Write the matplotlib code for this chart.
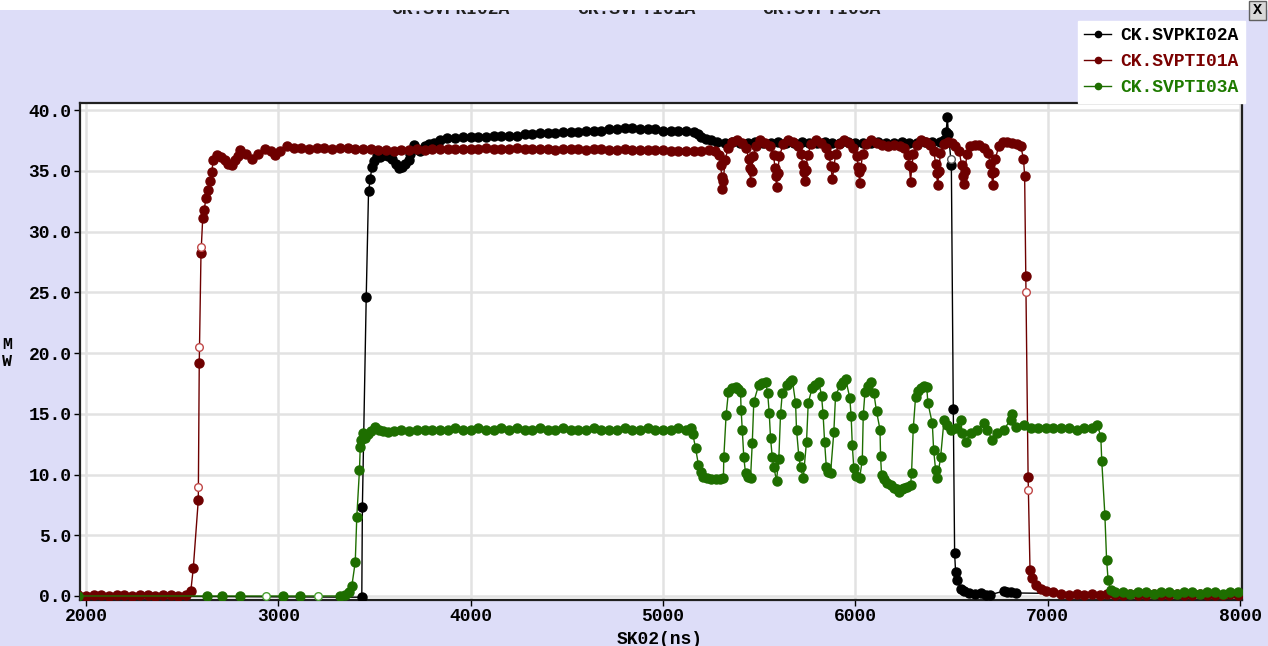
import matplotlib.pyplot as plt
from matplotlib.lines import Line2D
from matplotlib.patches import Rectangle
from matplotlib.ticker import FormatStrFormatter
from matplotlib.transforms import Bbox, TransformedBbox

# series names
names = ['CK.SVPKI02A', 'CK.SVPTI01A', 'CK.SVPTI03A']

# CK.SVPKI02A (black)
blk_t = [1960, 3434, 3437, 3457, 3469, 3478, 3486, 3498, 3512, 3530, 3550, 3570, 3590, 3610,
         3625, 3643, 3660, 3677, 3686, 3703, 3720, 3738, 3760, 3785, 3807, 3840, 3877, 3920,
         3960, 4000, 4040, 4080, 4120, 4160, 4200, 4240, 4280, 4320, 4360, 4400, 4440, 4480,
         4520, 4560, 4600, 4640, 4680, 4720, 4760, 4800, 4840, 4880, 4920, 4960, 5000, 5040,
         5080, 5120, 5160, 5180, 5200, 5225, 5250, 5280, 5320, 5360, 5400, 5440, 5480, 5520,
         5560, 5600, 5640, 5680, 5720, 5760, 5800, 5840, 5880, 5920, 5960, 6000, 6040, 6080,
         6120, 6160, 6200, 6240, 6280, 6320, 6360, 6400, 6440, 6460, 6472, 6478, 6484, 6499,
         6509, 6516, 6521, 6530, 6547, 6565, 6590, 6620, 6651, 6677, 6700, 6771, 6790, 6807,
         6833, 8050]
blk_mw = [0.0, -0.1, 7.3, 24.6, 33.3, 34.3, 35.3, 35.8, 36.2, 36.1, 36.3, 36.2, 36.0, 35.6,
          35.2, 35.3, 35.6, 35.9, 36.4, 37.1, 36.8, 36.6, 37.0, 37.2, 37.3, 37.5, 37.7, 37.7,
          37.8, 37.8, 37.8, 37.8, 37.9, 37.9, 37.9, 37.9, 38.0, 38.0, 38.1, 38.1, 38.1, 38.2,
          38.2, 38.2, 38.3, 38.3, 38.3, 38.4, 38.4, 38.5, 38.5, 38.4, 38.4, 38.4, 38.3, 38.3,
          38.3, 38.3, 38.2, 38.0, 37.8, 37.6, 37.5, 37.4, 37.3, 37.4, 37.3, 37.3, 37.4, 37.3,
          37.3, 37.4, 37.3, 37.3, 37.4, 37.3, 37.3, 37.4, 37.3, 37.3, 37.4, 37.3, 37.3, 37.3,
          37.4, 37.3, 37.3, 37.4, 37.3, 37.3, 37.4, 37.4, 37.4, 37.5, 38.2, 39.4, 38.0, 35.5,
          15.4, 3.5, 2.0, 1.3, 0.6, 0.4, 0.25, 0.2, 0.25, 0.1, 0.1, 0.4, 0.3, 0.35,
          0.25, 0.0]
blk_open_t = [6499]
blk_open_mw = [36.0]

# CK.SVPTI01A (dark red)
red_t = [1960, 2000, 2040, 2080, 2120, 2160, 2200, 2240, 2280, 2320, 2360, 2400, 2440, 2480,
         2520, 2545, 2558, 2584, 2589, 2598, 2607, 2615, 2624, 2636, 2645, 2654, 2662, 2680,
         2700, 2723, 2740, 2758, 2775, 2791, 2801, 2830, 2862, 2895, 2931, 2960, 2983, 3010,
         3044, 3080, 3120, 3160, 3200, 3240, 3280, 3320, 3360, 3400, 3440, 3480, 3520, 3560,
         3600, 3640, 3680, 3720, 3760, 3800, 3840, 3880, 3920, 3960, 4000, 4040, 4080, 4120,
         4160, 4200, 4240, 4280, 4320, 4360, 4400, 4440, 4480, 4520, 4560, 4600, 4640, 4680,
         4720, 4760, 4800, 4840, 4880, 4920, 4960, 5000, 5040, 5080, 5120, 5160, 5200,
         5240, 5270, 5290, 5300, 5305, 5309, 5314, 5322, 5340, 5360, 5385, 5410, 5432, 5445,
         5450, 5455, 5460, 5468, 5485, 5505, 5530, 5555, 5575, 5582, 5586, 5590, 5596, 5605,
         5625, 5650, 5675, 5700, 5718, 5726, 5732, 5736, 5742, 5752, 5770, 5795, 5820, 5845,
         5864, 5872, 5881, 5888, 5898, 5915, 5940, 5965, 5990, 6008, 6015, 6018, 6022, 6028,
         6038, 6055, 6080, 6110, 6140, 6170, 6200, 6230, 6255, 6272, 6280, 6287, 6293, 6302,
         6318, 6340, 6365, 6390, 6408, 6417, 6422, 6428, 6434, 6442, 6460, 6480, 6500, 6520,
         6540, 6552, 6558, 6563, 6570, 6580, 6598, 6620, 6645, 6668, 6690, 6700, 6708, 6714,
         6720, 6728, 6745, 6765, 6790, 6815, 6840, 6860, 6874, 6880, 6886, 6898, 6908, 6918,
         6938, 6964, 6990, 7030, 7070, 7110, 7150, 7190, 7230, 7270, 7310, 7350, 7390, 7430,
         7470, 7510, 7550, 7590, 7630, 7670, 7710, 7750, 7790, 7830, 7870, 7910, 7950, 7990,
         8040]
red_mw = [0.1, 0.0, 0.1, 0.1, 0.0, 0.1, 0.1, 0.0, 0.1, 0.1, 0.0, 0.1, 0.1, 0.0,
          0.1, 0.4, 2.3, 7.9, 19.2, 28.2, 31.1, 31.8, 32.8, 33.4, 34.2, 34.9, 35.9, 36.3,
          36.1, 35.9, 35.6, 35.5, 35.9, 36.2, 36.7, 36.4, 36.0, 36.4, 36.8, 36.6, 36.3, 36.6,
          37.0, 36.9, 36.9, 36.8, 36.9, 36.9, 36.8, 36.9, 36.9, 36.8, 36.8, 36.8, 36.7, 36.7,
          36.6, 36.7, 36.7, 36.8, 36.7, 36.8, 36.8, 36.8, 36.8, 36.8, 36.8, 36.8, 36.9, 36.8,
          36.8, 36.8, 36.9, 36.8, 36.8, 36.8, 36.8, 36.7, 36.8, 36.8, 36.8, 36.7, 36.8, 36.8,
          36.7, 36.7, 36.8, 36.7, 36.7, 36.7, 36.7, 36.7, 36.6, 36.6, 36.6, 36.6, 36.6,
          36.7, 36.6, 36.3, 35.5, 34.5, 33.5, 34.2, 35.9, 36.9, 37.4, 37.5, 37.3, 36.9, 36.0,
          35.2, 34.1, 35.0, 36.2, 37.0, 37.5, 37.3, 37.0, 36.3, 35.2, 34.6, 33.7, 34.8, 36.2,
          37.2, 37.5, 37.4, 37.0, 36.4, 35.5, 34.9, 34.2, 35.1, 36.3, 37.2, 37.5, 37.3, 36.9,
          36.3, 35.4, 34.3, 35.3, 36.4, 37.2, 37.5, 37.3, 36.9, 36.2, 35.3, 34.9, 34.0, 35.2,
          36.4, 37.2, 37.5, 37.3, 37.1, 37.0, 37.1, 37.0, 36.9, 36.3, 35.5, 34.1, 35.3, 36.4,
          37.1, 37.5, 37.4, 37.1, 36.6, 35.6, 34.8, 33.8, 35.0, 36.5, 37.2, 37.4, 37.3, 37.0,
          36.6, 35.5, 34.6, 33.9, 35.0, 36.4, 37.0, 37.1, 37.1, 36.9, 36.5, 35.6, 34.8, 33.8,
          34.9, 36.0, 37.0, 37.4, 37.4, 37.3, 37.2, 37.0, 36.0, 34.6, 26.3, 9.8, 2.1, 1.5,
          0.9, 0.6, 0.4, 0.3, 0.2, 0.1, 0.2, 0.1, 0.2, 0.1, 0.2, 0.1, 0.1, 0.2,
          0.1, 0.1, 0.2, 0.1, 0.1, 0.2, 0.1, 0.1, 0.2, 0.1, 0.1, 0.1, 0.2, 0.1,
          0.1]
red_open_t = [2584, 2589, 2598, 6887, 6898]
red_open_mw = [9.0, 20.5, 28.7, 25.0, 8.7]

# CK.SVPTI03A (green)
grn_t = [1960, 2630, 2708, 2801, 3025, 3113, 3322, 3347, 3365, 3382, 3400, 3408, 3422, 3426,
         3432, 3439, 3450, 3465, 3480, 3504, 3525, 3545, 3570, 3600, 3640, 3680, 3720, 3760,
         3800, 3840, 3880, 3920, 3960, 4000, 4040, 4080, 4120, 4160, 4200, 4240, 4280, 4320,
         4360, 4400, 4440, 4480, 4520, 4560, 4600, 4640, 4680, 4720, 4760, 4800, 4840, 4880,
         4920, 4960, 5000, 5040, 5080, 5120, 5143, 5155, 5169, 5184, 5195, 5210, 5231, 5250,
         5273, 5295, 5314,
         5316, 5328, 5340, 5360, 5377, 5392, 5403, 5406, 5412, 5420, 5429, 5442, 5455,
         5464, 5472, 5498, 5515, 5533, 5544, 5552, 5559, 5568, 5576, 5590,
         5602, 5611, 5620, 5646, 5660, 5672, 5689, 5694, 5706, 5715, 5729,
         5746, 5755, 5775, 5790, 5810, 5824, 5832, 5840, 5849, 5860, 5871,
         5888, 5897, 5923, 5935, 5949, 5971, 5978, 5984, 5992, 6005, 6022,
         6036, 6041, 6050, 6065, 6079, 6096, 6110, 6128, 6131, 6136, 6150,
         6166, 6183, 6200, 6215, 6227, 6240, 6253, 6270, 6287,
         6292, 6301, 6313, 6325, 6339, 6355, 6371, 6377, 6400, 6407, 6417, 6426, 6443, 6461,
         6478, 6495, 6521, 6547, 6556, 6573, 6599, 6634, 6669, 6686, 6712, 6738, 6772, 6807,
         6816, 6833, 6877, 6912, 6950, 6990, 7030, 7070, 7110, 7150, 7190, 7230, 7258, 7276,
         7281, 7297, 7306, 7314, 7328, 7350, 7390, 7430, 7470, 7510, 7550, 7590, 7630, 7670,
         7710, 7750, 7790, 7830, 7870, 7910, 7950, 7990, 8040]
grn_mw = [0.0, 0.0, 0.0, 0.0, 0.0, 0.0, 0.0, 0.1, 0.3, 0.8, 2.8, 6.5, 10.4, 12.3,
          12.8, 13.4, 13.0, 13.3, 13.6, 13.9, 13.7, 13.6, 13.5, 13.6, 13.7, 13.6, 13.7, 13.7,
          13.7, 13.7, 13.7, 13.8, 13.7, 13.7, 13.8, 13.7, 13.7, 13.8, 13.7, 13.8, 13.7, 13.7,
          13.8, 13.7, 13.7, 13.8, 13.7, 13.7, 13.7, 13.8, 13.7, 13.7, 13.7, 13.8, 13.7, 13.7,
          13.8, 13.7, 13.7, 13.7, 13.8, 13.7, 13.8, 13.3, 12.2, 10.8, 10.2, 9.8, 9.7, 9.6,
          9.6, 9.6, 9.7,
          11.4, 14.9, 16.8, 17.1, 17.2, 17.0, 16.8, 15.3, 13.7, 11.4, 10.1, 9.8, 9.7,
          12.6, 16.0, 17.4, 17.5, 17.6, 16.7, 15.1, 13.0, 11.4, 10.6, 9.5,
          11.3, 15.0, 16.7, 17.4, 17.6, 17.8, 15.9, 13.7, 11.5, 10.6, 9.7,
          12.7, 15.9, 17.1, 17.4, 17.6, 16.5, 15.0, 12.7, 10.6, 10.2, 10.1,
          13.5, 16.5, 17.4, 17.6, 17.9, 16.3, 14.8, 12.4, 10.5, 9.9, 9.7,
          11.2, 14.9, 16.8, 17.3, 17.6, 16.7, 15.2, 13.7, 11.5, 10.0, 9.6,
          9.3, 9.1, 8.9, 8.8, 8.6, 8.8, 8.9, 9.0, 9.1,
          10.1, 13.8, 16.4, 16.9, 17.1, 17.3, 17.2, 15.9, 14.2, 12.0, 10.4, 9.7, 11.4, 14.5,
          14.1, 13.7, 13.8, 14.5, 13.4, 12.7, 13.4, 13.7, 14.2, 13.7, 12.8, 13.4, 13.7, 14.5,
          15.0, 13.9, 14.1, 13.8, 13.8, 13.8, 13.8, 13.8, 13.8, 13.7, 13.8, 13.8, 14.1, 13.1,
          11.1, 6.7, 3.0, 1.3, 0.5, 0.3, 0.3, 0.2, 0.3, 0.3, 0.2, 0.3, 0.3, 0.2,
          0.3, 0.3, 0.2, 0.3, 0.3, 0.2, 0.3, 0.3, 0.2]
grn_open_t = [2937, 3207]
grn_open_mw = [0.0, 0.0]

colors = ['#000000', '#6E0000', '#1E6E00']
open_colors = ['#555555', '#C04848', '#48A030']
text_colors = ['#000000', '#7A0000', '#1E7A00']

x_ticks = [2000, 3000, 4000, 5000, 6000, 7000, 8000]
y_ticks = [0, 5, 10, 15, 20, 25, 30, 35, 40]

font = {'family': ['Liberation Mono', 'DejaVu Sans Mono'], 'weight': 'bold'}
bg = '#DDDDF8'

fig = plt.figure(figsize=(12.68, 6.46), dpi=100, facecolor=bg)
ax = fig.add_axes([80 / 1268, 46 / 646, 1162 / 1268, 497 / 646])
ax.set_facecolor('white')

series = [(blk_t, blk_mw, blk_open_t, blk_open_mw),
          (red_t, red_mw, red_open_t, red_open_mw),
          (grn_t, grn_mw, grn_open_t, grn_open_mw)]
for i, (t, mw, ot, omw) in enumerate(series):
  ax.plot(t, mw, color=colors[i], lw=1.0, marker='o', ms=6.5, mec=colors[i], mfc=colors[i],
          zorder=3 + i)
  ax.plot(ot, omw, ls='none', marker='o', ms=5.5, mfc='white', mec=open_colors[i], mew=1.0,
          zorder=3 + i)

ax.set_xlim(1969, 8010)
ax.set_ylim(-0.33, 40.58)
ax.set_xticks(x_ticks)
ax.set_yticks(y_ticks)
ax.yaxis.set_major_formatter(FormatStrFormatter('%.1f'))
ax.grid(True, color='#E2E2E2', lw=1.8, zorder=0)
ax.set_axisbelow(True)
ax.tick_params(direction='out', length=4, width=1, color='black', pad=2, labelsize=13)
for lab in ax.get_xticklabels() + ax.get_yticklabels():
  lab.set_fontfamily(font['family'])
  lab.set_fontweight('bold')
for s in ax.spines.values():
  s.set_linewidth(1.6)
  s.set_color('#202020')

# axis titles
fig.text(7 / 1268, 1 - 353 / 646, 'M\nW', ha='center', va='center', fontsize=12,
         linespacing=1.1, **font)
fig.text(660 / 1268, 1 - 640 / 646, 'SK02(ns)', ha='center', va='center', fontsize=13, **font)

# white strip at the top, header names cut off by it
fig.patches.append(Rectangle((0, 1 - 10 / 646), 1, 10 / 646, transform=fig.transFigure,
                             facecolor='white', edgecolor='none', zorder=0.5))
strip_clip = TransformedBbox(Bbox([[0, 0], [1, 1 - 10 / 646]]), fig.transFigure)
for xc, nm in zip([450, 636, 821], names):
  t = fig.text(xc / 1268, 1 - 9 / 646, nm, ha='center', va='center', fontsize=13, zorder=1,
               color='#202020', **font)
  t.set_clip_box(strip_clip)
  t.set_clip_on(True)

# close button
fig.patches.append(Rectangle((1249 / 1268, 1 - 20 / 646), 17 / 1268, 19 / 646,
                             transform=fig.transFigure, facecolor='#D8D8D8',
                             edgecolor='#606060', lw=1, zorder=6))
fig.text(1257.5 / 1268, 1 - 10 / 646, 'X', ha='center', va='center', fontsize=11, zorder=7,
         **font)

# legend
handles = [Line2D([], [], color=c, lw=1, marker='o', ms=4.5) for c in colors]
leg = fig.legend(handles, names, loc='upper left', bbox_to_anchor=(1078 / 1268, 1 - 21 / 646),
                 frameon=True, facecolor='white', edgecolor='white', fancybox=False,
                 framealpha=1, handlelength=1.5, handletextpad=0.5, labelspacing=0.5,
                 borderpad=0.35, borderaxespad=0, prop={'family': font['family'],
                                                        'weight': 'bold', 'size': 13})
for txt, c in zip(leg.get_texts(), text_colors):
  txt.set_color(c)

plt.savefig('out.png', dpi=100, facecolor=bg)
plt.close()
